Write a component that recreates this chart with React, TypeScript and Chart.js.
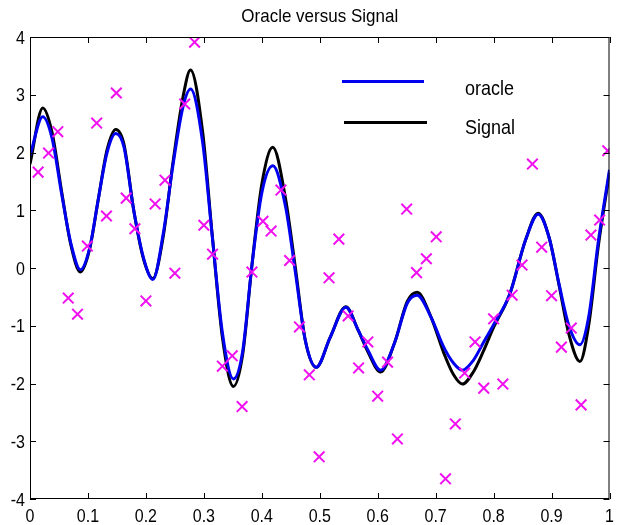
import { useEffect, useRef } from "react";
import { Chart, registerables } from "chart.js";

Chart.register(...registerables);

// Positions along x where the two smooth curves are sampled
const curveX = [
  0, 0.022, 0.038, 0.055, 0.07, 0.087, 0.103, 0.118, 0.133, 0.148,
  0.162, 0.179, 0.196, 0.212, 0.23, 0.247, 0.264, 0.277, 0.298, 0.314,
  0.332, 0.351, 0.367, 0.383, 0.4, 0.419, 0.441, 0.458, 0.475, 0.494,
  0.518, 0.545, 0.566, 0.583, 0.605, 0.629, 0.651, 0.668, 0.692, 0.714,
  0.731, 0.746, 0.765, 0.782, 0.799, 0.828, 0.855, 0.877, 0.896, 0.913,
  0.93, 0.949, 0.964, 0.981, 1.0,
];

// Oracle estimate (blue)
const oracleY = [
  1.95, 2.62, 2.25, 1.26, 0.45, -0.03, 0.35, 1.2, 2.0, 2.33,
  2.1, 1.0, 0.17, -0.2, 0.6, 1.8, 2.79, 3.1, 2.17, 0.6,
  -1.12, -1.92, -1.44, 0.05, 1.3, 1.77, 1.06, -0.08, -1.25, -1.72,
  -1.2, -0.68, -1.07, -1.42, -1.77, -1.3, -0.61, -0.47, -0.85, -1.37,
  -1.65, -1.77, -1.6, -1.3, -1.0, -0.45, 0.48, 0.93, 0.52, -0.28,
  -1.0, -1.33, -0.85, 0.48, 1.7,
];

// True signal (black)
const signalY = [
  1.8, 2.77, 2.35, 1.3, 0.42, -0.07, 0.33, 1.2, 2.05, 2.4,
  2.15, 1.0, 0.15, -0.18, 0.55, 1.85, 2.96, 3.43, 2.35, 0.62,
  -1.2, -2.05, -1.5, 0.05, 1.45, 2.09, 1.2, 0.0, -1.25, -1.72,
  -1.2, -0.67, -1.07, -1.45, -1.8, -1.3, -0.58, -0.42, -0.85, -1.47,
  -1.85, -2.01, -1.8, -1.45, -1.05, -0.45, 0.48, 0.95, 0.52, -0.3,
  -1.15, -1.62, -1.0, 0.4, 1.65,
];

// Noisy observations (magenta crosses)
const noisyX = [
  0.014, 0.032, 0.048, 0.066, 0.082, 0.099, 0.115, 0.132, 0.149, 0.166,
  0.181, 0.2, 0.216, 0.233, 0.25, 0.267, 0.284, 0.3, 0.315, 0.332,
  0.349, 0.366, 0.383, 0.402, 0.416, 0.433, 0.448, 0.465, 0.482, 0.499,
  0.516, 0.533, 0.549, 0.567, 0.583, 0.6, 0.617, 0.634, 0.65, 0.667,
  0.684, 0.701, 0.717, 0.734, 0.75, 0.768, 0.783, 0.8, 0.816, 0.832,
  0.849, 0.867, 0.883, 0.9, 0.917, 0.934, 0.951, 0.968, 0.983, 0.997,
];
const noisyY = [
  1.66, 1.99, 2.36, -0.52, -0.8, 0.38, 2.51, 0.9, 3.03, 1.21,
  0.68, -0.57, 1.11, 1.52, -0.09, 2.84, 3.91, 0.74, 0.24, -1.7,
  -1.52, -2.4, -0.07, 0.81, 0.64, 1.35, 0.13, -1.02, -1.85, -3.27,
  -0.17, 0.5, -0.83, -1.73, -1.28, -2.22, -1.63, -2.96, 1.02, -0.08,
  0.16, 0.54, -3.65, -2.7, -1.82, -1.28, -2.08, -0.88, -2.01, -0.47,
  0.05, 1.8, 0.36, -0.48, -1.37, -1.04, -2.37, 0.57, 0.83, 2.03,
];

const xTicks = [0, 0.1, 0.2, 0.3, 0.4, 0.5, 0.6, 0.7, 0.8, 0.9, 1];
const xTickLabels = ["0", "0.1", "0.2", "0.3", "0.4", "0.5", "0.6", "0.7", "0.8", "0.9", "1"];
const yTicks = [-4, -3, -2, -1, 0, 1, 2, 3, 4];
const yTickLabels = ["-4", "-3", "-2", "-1", "0", "1", "2", "3", "4"];

const titleText = "Oracle versus Signal";
const seriesNames = ["oracle", "Signal"];

const BLUE = "#0000f0";
const BLACK = "#000000";
const MAGENTA = "#f010f0";
const FONT = '"Liberation Sans", Arial, Helvetica, sans-serif';
const TEXT_STRETCH = 1.12;

function drawText(
  ctx: CanvasRenderingContext2D,
  text: string,
  x: number,
  y: number,
  size: number,
  align: CanvasTextAlign
) {
  ctx.save();
  ctx.font = `${size}px ${FONT}`;
  ctx.fillStyle = "#000";
  ctx.textAlign = align;
  ctx.textBaseline = "alphabetic";
  ctx.translate(x, y);
  ctx.scale(1, TEXT_STRETCH);
  ctx.fillText(text, 0, 0);
  ctx.restore();
}

// Boxed axes with inward ticks, tick labels, title and an in-plot legend
const axesBox = {
  id: "axesBox",
  afterDatasetsDraw(chart: any) {
    const { ctx, chartArea: a, scales } = chart;
    const sx = scales.x;
    const sy = scales.y;
    const T = 6;
    ctx.save();
    ctx.strokeStyle = "#000";
    ctx.lineWidth = 1;
    ctx.strokeRect(a.left + 0.5, a.top + 0.5, a.right - a.left - 1, a.bottom - a.top - 1);
    ctx.beginPath();
    xTicks.forEach((v) => {
      const px = Math.round(sx.getPixelForValue(v)) + 0.5;
      ctx.moveTo(px, a.bottom);
      ctx.lineTo(px, a.bottom - T);
      ctx.moveTo(px, a.top);
      ctx.lineTo(px, a.top + T);
    });
    yTicks.forEach((v) => {
      const py = Math.round(sy.getPixelForValue(v)) + 0.5;
      ctx.moveTo(a.left, py);
      ctx.lineTo(a.left + T, py);
      ctx.moveTo(a.right, py);
      ctx.lineTo(a.right - T, py);
    });
    ctx.stroke();
    ctx.restore();
  },
  afterDraw(chart: any) {
    const { ctx, chartArea: a, scales } = chart;
    const sx = scales.x;
    const sy = scales.y;

    xTicks.forEach((v, i) => {
      drawText(ctx, xTickLabels[i], sx.getPixelForValue(v), a.bottom + 23, 16, "center");
    });
    yTicks.forEach((v, i) => {
      drawText(ctx, yTickLabels[i], a.left - 5, sy.getPixelForValue(v) + 6.5, 16, "right");
    });

    drawText(ctx, titleText, (a.left + a.right) / 2, 22, 17, "center");

    // legend entries
    ctx.save();
    ctx.lineWidth = 3;
    ctx.lineCap = "butt";
    ctx.strokeStyle = BLUE;
    ctx.beginPath();
    ctx.moveTo(342, 81.5);
    ctx.lineTo(424, 81.5);
    ctx.stroke();
    ctx.strokeStyle = BLACK;
    ctx.beginPath();
    ctx.moveTo(344, 122.5);
    ctx.lineTo(427, 122.5);
    ctx.stroke();
    ctx.restore();
    drawText(ctx, seriesNames[0], 465, 95, 18, "left");
    drawText(ctx, seriesNames[1], 465, 133.5, 18, "left");
  },
};

export default function App() {
  const canvasRef = useRef<HTMLCanvasElement | null>(null);

  useEffect(() => {
    const canvas = canvasRef.current;
    if (!canvas) return;

    const chart = new Chart(canvas, {
      type: "scatter",
      data: {
        datasets: [
          {
            label: "samples",
            data: noisyX.map((x, i) => ({ x, y: noisyY[i] })),
            showLine: false,
            pointStyle: "crossRot",
            pointRadius: 7.5,
            pointBorderWidth: 2,
            pointBorderColor: MAGENTA,
            pointBackgroundColor: MAGENTA,
          },
          {
            label: seriesNames[0],
            data: curveX.map((x, i) => ({ x, y: oracleY[i] })),
            showLine: true,
            borderColor: BLUE,
            borderWidth: 3,
            pointRadius: 0,
            cubicInterpolationMode: "monotone",
            borderJoinStyle: "round",
          },
          {
            label: seriesNames[1],
            data: curveX.map((x, i) => ({ x, y: signalY[i] })),
            showLine: true,
            borderColor: BLACK,
            borderWidth: 3,
            pointRadius: 0,
            cubicInterpolationMode: "monotone",
            borderJoinStyle: "round",
          },
        ],
      },
      options: {
        responsive: false,
        animation: false,
        devicePixelRatio: 1,
        layout: { padding: { left: 30, top: 37, right: 2, bottom: 26 } },
        scales: {
          x: { type: "linear", min: 0, max: 1, display: false },
          y: { type: "linear", min: -4, max: 4, display: false },
        },
        plugins: {
          legend: { display: false },
          title: { display: false },
          tooltip: { enabled: false },
        },
      },
      plugins: [axesBox],
    });

    return () => chart.destroy();
  }, []);

  return (
    <div style={{ position: "fixed", left: 0, top: 0, width: 619, height: 525, background: "#fff" }}>
      <canvas ref={canvasRef} width={619} height={525} style={{ display: "block" }} />
    </div>
  );
}
